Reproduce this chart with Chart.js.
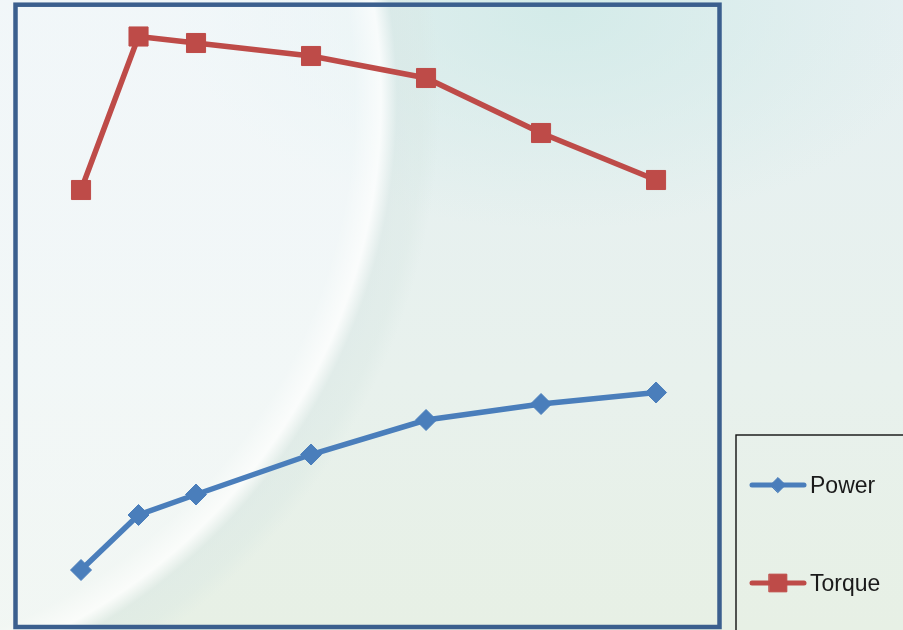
<!DOCTYPE html>
<html lang="en">
<head>
  <meta charset="UTF-8">
  <title>Power and Torque</title>
  <script src="https://cdn.jsdelivr.net/npm/chart.js"></script>
  <style>
    html, body {
      margin: 0;
      padding: 0;
      width: 903px;
      height: 630px;
      overflow: hidden;
    }
    body {
      background:
        radial-gradient(circle 660px at -215px 100px,
          rgba(250,252,255,0.55) 0,
          rgba(250,252,255,0.55) 570px,
          rgba(255,255,255,0.8) 596px,
          rgba(216,230,228,0.45) 612px,
          rgba(216,231,227,0.35) 638px,
          rgba(216,231,227,0) 655px),
        radial-gradient(ellipse 380px 220px at 560px 10px,
          rgba(208,234,231,0.85), rgba(208,234,231,0)),
        linear-gradient(180deg, #e6f0f2 0%, #e8f1ed 60%, #e7f0e5 100%);
    }
    #wrap {
      position: absolute;
      left: 0;
      top: 0;
      width: 903px;
      height: 630px;
    }
  </style>
</head>
<body>

<div id="wrap">
  <canvas id="ptChart"></canvas>
</div>

<script>
  // engine speed (rpm)
  const rpm = [1000, 1500, 2000, 3000, 4000, 5000, 6000];
  // values (no axis shown)
  const power = [11, 22, 26.1, 34.1, 41, 44.2, 46.5];
  const torque = [87, 117.7, 116.4, 113.8, 109.4, 98.4, 89];

  const blue = '#4a7ebb';
  const red = '#be4b48';

  // plot frame around chart area
  const framePlugin = {
    id: 'frame',
    afterDraw(chart) {
      const { ctx, chartArea: a } = chart;
      ctx.save();
      ctx.strokeStyle = '#3b5f8e';
      ctx.lineWidth = 4.5;
      ctx.strokeRect(a.left - 2.5, a.top - 2.3, a.right - a.left + 5, a.bottom - a.top + 4.3);
      ctx.restore();
    }
  };

  // boxed legend, lower right
  const legendMarks = [7.5, 12.5];
  const boxLegend = {
    id: 'boxLegend',
    afterDraw(chart) {
      const ctx = chart.ctx;
      ctx.save();
      ctx.strokeStyle = '#111';
      ctx.lineWidth = 1.4;
      ctx.strokeRect(736, 435, 200, 220);

      const rows = [485, 583];
      chart.data.datasets.forEach((ds, i) => {
        const y = rows[i];
        ctx.strokeStyle = ds.borderColor;
        ctx.lineWidth = 5;
        ctx.lineCap = 'round';
        ctx.beginPath();
        ctx.moveTo(752, y);
        ctx.lineTo(804, y);
        ctx.stroke();

        ctx.fillStyle = ds.pointBackgroundColor;
        ctx.strokeStyle = ds.pointBorderColor;
        ctx.lineWidth = 1;
        Chart.helpers.drawPoint(ctx, {
          pointStyle: ds.pointStyle,
          radius: legendMarks[i],
          borderWidth: 1
        }, 778, y);

        ctx.fillStyle = '#1a1a1a';
        ctx.font = '23px "Liberation Sans", Arial, sans-serif';
        ctx.textBaseline = 'alphabetic';
        ctx.fillText(ds.label, 810, y + 7.5);
      });
      ctx.restore();
    }
  };

  const ctx = document.getElementById('ptChart').getContext('2d');
  const chart = new Chart(ctx, {
    type: 'line',
    data: {
      datasets: [
        {
          label: 'Power',
          data: rpm.map((r, i) => ({ x: r, y: power[i] })),
          borderColor: blue,
          borderWidth: 5.5,
          pointStyle: 'rectRot',
          pointRadius: 10.5,
          pointBackgroundColor: blue,
          pointBorderColor: blue,
          pointBorderWidth: 1,
          tension: 0
        },
        {
          label: 'Torque',
          data: rpm.map((r, i) => ({ x: r, y: torque[i] })),
          borderColor: red,
          borderWidth: 5.5,
          pointStyle: 'rect',
          pointRadius: 13.5,
          pointBackgroundColor: red,
          pointBorderColor: red,
          pointBorderWidth: 1,
          tension: 0
        }
      ]
    },
    options: {
      responsive: true,
      maintainAspectRatio: false,
      animation: false,
      layout: {
        autoPadding: false,
        padding: { left: 18, top: 7, right: 186, bottom: 5 }
      },
      scales: {
        x: { type: 'linear', min: 452, max: 6530, display: false },
        y: { min: 0, max: 123.6, display: false }
      },
      plugins: {
        legend: { display: false },
        tooltip: { enabled: false }
      }
    },
    plugins: [framePlugin, boxLegend]
  });
</script>

</body>
</html>
